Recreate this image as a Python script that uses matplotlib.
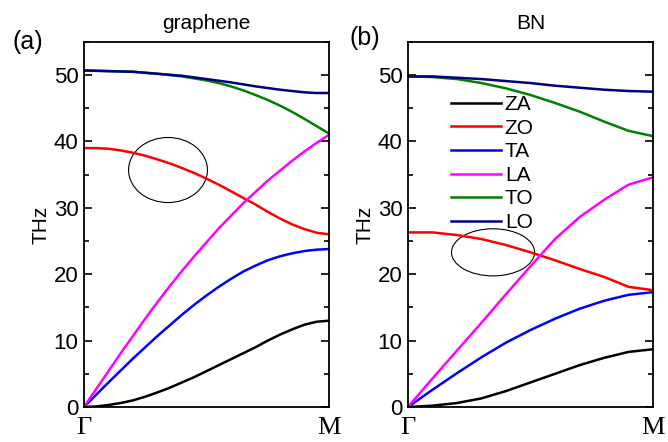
import numpy as np
import matplotlib
matplotlib.use("Agg")
from matplotlib import pyplot as plt
from matplotlib.patches import Ellipse
from matplotlib.ticker import MultipleLocator

plt.rcParams['font.family'] = ['Liberation Sans', 'DejaVu Sans']

# path Gamma -> M
qg = np.linspace(0, 1, 21)
qb = np.linspace(0, 1, 11)

# graphene branches (THz), 21 points
g_za = [0, 0.08, 0.3, 0.6, 1.0, 1.55, 2.2, 2.9, 3.7, 4.5, 5.4, 6.3, 7.2, 8.1, 9.0, 10.0, 10.9, 11.7, 12.4, 12.85, 13.0]
g_zo = [39.0, 39.0, 38.9, 38.65, 38.3, 37.85, 37.3, 36.7, 36.0, 35.25, 34.4, 33.5, 32.5, 31.5, 30.5, 29.4, 28.4, 27.5, 26.8, 26.25, 26.0]
g_ta = [0, 1.85, 3.7, 5.5, 7.3, 9.0, 10.7, 12.3, 13.9, 15.4, 16.8, 18.1, 19.3, 20.4, 21.3, 22.1, 22.7, 23.15, 23.5, 23.7, 23.8]
g_la = [0, 2.7, 5.4, 8.1, 10.7, 13.3, 15.8, 18.2, 20.5, 22.7, 24.8, 26.9, 28.8, 30.7, 32.4, 34.1, 35.6, 37.1, 38.5, 39.8, 41.0]
g_to = [50.7, 50.65, 50.6, 50.55, 50.5, 50.35, 50.2, 50.0, 49.8, 49.5, 49.2, 48.8, 48.3, 47.7, 47.0, 46.25, 45.4, 44.45, 43.4, 42.3, 41.2]
g_lo = [50.7, 50.65, 50.6, 50.55, 50.5, 50.35, 50.2, 50.05, 49.9, 49.65, 49.4, 49.15, 48.9, 48.6, 48.3, 48.05, 47.8, 47.6, 47.4, 47.3, 47.3]

# BN branches (THz), 11 points
b_za = [0, 0.2, 0.6, 1.3, 2.4, 3.7, 5.0, 6.3, 7.4, 8.3, 8.7]
b_zo = [26.3, 26.3, 25.9, 25.3, 24.4, 23.3, 22.1, 20.8, 19.6, 18.1, 17.6]
b_ta = [0, 2.6, 5.1, 7.5, 9.7, 11.6, 13.3, 14.8, 16.0, 16.9, 17.3]
b_la = [0, 4.3, 8.5, 12.7, 17.0, 21.2, 25.3, 28.6, 31.2, 33.5, 34.6]
b_to = [49.8, 49.7, 49.4, 48.8, 48.0, 47.0, 45.8, 44.5, 43.0, 41.6, 40.8]
b_lo = [49.8, 49.8, 49.6, 49.4, 49.1, 48.8, 48.4, 48.1, 47.8, 47.6, 47.5]

names = ['ZA', 'ZO', 'TA', 'LA', 'TO', 'LO']
colors = ['black', '#ff0000', '#0000ff', '#ff00ff', '#008000', '#000080']

fig = plt.figure(figsize=(6.68, 4.42), dpi=100)
ax1 = fig.add_axes([0.1257, 0.0792, 0.3668, 0.826])
ax2 = fig.add_axes([0.6108, 0.0792, 0.3668, 0.826])

def draw(ax, q, branches, title, tag, tagx, tagy, ell):
    for y, c, n in zip(branches, colors, names):
        ax.plot(q, y, color=c, lw=1.8, label=n)
    ax.set_xlim(0, 1)
    ax.set_ylim(0, 55)
    ax.yaxis.set_major_locator(MultipleLocator(10))
    ax.yaxis.set_minor_locator(MultipleLocator(5))
    ax.tick_params(axis='y', which='both', direction='in', left=True, right=True, labelsize=16, pad=4)
    ax.tick_params(axis='y', which='major', length=6, width=1.2)
    ax.tick_params(axis='y', which='minor', length=3.5, width=1.2)
    ax.set_xticks([0, 1])
    ax.set_xticklabels(['Γ', 'M'], family='Liberation Serif', fontsize=19)
    ax.tick_params(axis='x', length=0, pad=7)
    for s in ax.spines.values():
        s.set_linewidth(1.3)
    ax.set_ylabel('THz', fontsize=15, labelpad=2)
    ax.set_title(title, fontsize=15, pad=9)
    ax.text(tagx, tagy, tag, transform=ax.transAxes, fontsize=18, va='center')
    ax.add_patch(Ellipse(ell[0], ell[1], ell[2], fill=False, color='black', lw=0.8))

draw(ax1, qg, [g_za, g_zo, g_ta, g_la, g_to, g_lo], 'graphene', '(a)', -0.29, 1.0,
     ((0.343, 35.7), 0.322, 9.8))
draw(ax2, qb, [b_za, b_zo, b_ta, b_la, b_to, b_lo], 'BN', '(b)', -0.24, 1.012,
     ((0.347, 23.3), 0.339, 7.1))

ax2.legend(loc='upper left', bbox_to_anchor=(0.14, 0.877), frameon=False, fontsize=15,
           handlelength=2.4, handletextpad=0.2, labelspacing=0.22, borderaxespad=0)

fig.savefig('out.png', dpi=100)
